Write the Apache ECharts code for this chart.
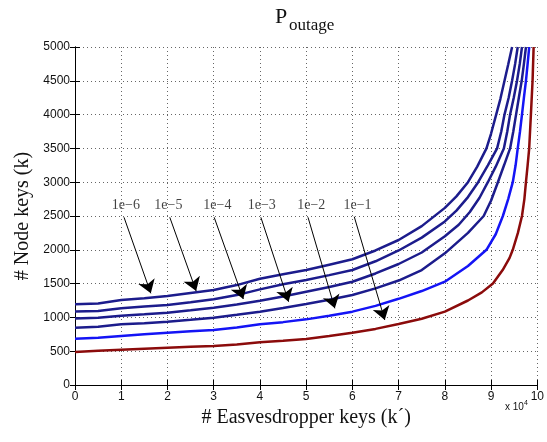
<!DOCTYPE html>
<html>
<head>
<meta charset="utf-8">
<script src="https://cdn.jsdelivr.net/npm/echarts@6/dist/echarts.min.js"></script>
<style>
  html, body { margin: 0; padding: 0; background: #fff; }
  #chart { width: 547px; height: 442px; }
</style>
</head>
<body>
<div id="chart"></div>
<script>
// x in units of 1e4 eavesdropper keys, y = node keys
const curve1e6 = [[0,1195],[0.5,1205],[1,1257],[1.5,1282],[2,1317],[2.5,1362],[3,1405],[3.5,1478],[4,1572],[4.5,1638],[5,1700],[5.5,1780],[6,1860],[6.5,1990],[7,2145],[7.5,2350],[8,2620],[8.25,2790],[8.5,3000],[8.7,3230],[8.9,3500],[9.0,3720],[9.11,4000],[9.2,4230],[9.29,4500],[9.37,4740],[9.454,5000]];
const curve1e5 = [[0,1088],[0.5,1095],[1,1134],[1.5,1160],[2,1183],[2.5,1225],[3,1268],[3.5,1330],[4,1415],[4.5,1490],[5,1553],[5.5,1625],[6,1701],[6.5,1830],[7,1990],[7.5,2180],[8,2420],[8.25,2580],[8.5,2780],[8.72,3000],[8.93,3250],[9.13,3500],[9.22,3750],[9.29,4000],[9.38,4250],[9.454,4500],[9.52,4750],[9.576,5000]];
const curve1e4 = [[0,983],[0.5,995],[1,1025],[1.5,1045],[2,1070],[2.5,1105],[3,1144],[3.5,1190],[4,1247],[4.5,1310],[5,1380],[5.5,1450],[6,1528],[6.5,1650],[7,1790],[7.5,1960],[8,2200],[8.3,2370],[8.54,2560],[8.75,2770],[8.93,3000],[9.1,3230],[9.276,3500],[9.35,3750],[9.411,4000],[9.49,4250],[9.561,4500],[9.62,4750],[9.668,5000]];
const curve1e3 = [[0,848],[0.5,860],[1,898],[1.5,915],[2,937],[2.5,965],[3,996],[3.5,1040],[4,1085],[4.5,1140],[5,1198],[5.5,1260],[6,1331],[6.5,1430],[7,1545],[7.5,1700],[8,1948],[8.5,2250],[8.84,2500],[9.0,2730],[9.147,3000],[9.28,3250],[9.411,3500],[9.48,3750],[9.54,4000],[9.6,4250],[9.662,4500],[9.71,4750],[9.754,5000]];
const curve1e2 = [[0,685],[0.5,700],[1,725],[1.5,750],[2,774],[2.5,795],[3,814],[3.5,850],[4,897],[4.5,930],[5,971],[5.5,1025],[6,1085],[6.5,1170],[7,1275],[7.5,1390],[8,1528],[8.5,1760],[8.9,2000],[9.1,2230],[9.255,2500],[9.37,2750],[9.469,3000],[9.53,3250],[9.576,3500],[9.625,3750],[9.668,4000],[9.71,4250],[9.754,4500],[9.79,4750],[9.825,5000]];
const curve1e1 = [[0,488],[0.5,505],[1,522],[1.5,537],[2,552],[2.5,565],[3,577],[3.5,600],[4,631],[4.5,655],[5,680],[5.5,725],[6,774],[6.5,830],[7,902],[7.5,980],[8,1085],[8.5,1250],[8.8,1370],[9.04,1500],[9.25,1700],[9.4,1880],[9.469,2000],[9.58,2250],[9.668,2500],[9.72,2750],[9.754,3000],[9.79,3250],[9.824,3500],[9.861,4000],[9.897,4500],[9.92,5000]];

const labelNames = ["1e\u22126", "1e\u22125", "1e\u22124", "1e\u22123", "1e\u22122", "1e\u22121"];
const labelPos = [[1.10,2663],[2.02,2663],[3.08,2663],[4.04,2663],[5.11,2663],[6.11,2663]];
const arrowStart = [[1.06,2481],[2.05,2481],[3.01,2481],[4.02,2481],[5.04,2481],[6.04,2490]];
const arrowEnd = [[1.64,1356],[2.62,1391],[3.64,1272],[4.62,1232],[5.62,1134],[6.70,962]];

const navy = "#1c1c8c";
const curves = [
  { data: curve1e6, color: navy },
  { data: curve1e5, color: navy },
  { data: curve1e4, color: navy },
  { data: curve1e3, color: navy },
  { data: curve1e2, color: "#1414f5" },
  { data: curve1e1, color: "#8b0b0b" }
];

const tickFont = { fontFamily: "Liberation Sans", fontSize: 12, color: "#111" };
const serif = "Liberation Serif";

const series = curves.map(function (c) {
  return {
    type: "line",
    data: c.data,
    showSymbol: false,
    smooth: false,
    clip: true,
    lineStyle: { color: c.color, width: 2.5 },
    z: 3
  };
});

series.push({
  type: "lines",
  coordinateSystem: "cartesian2d",
  symbol: ["none", "arrow"],
  symbolSize: [9, 13],
  lineStyle: { color: "#000", width: 1, opacity: 1 },
  data: arrowStart.map(function (s, i) {
    return { coords: [s, arrowEnd[i]] };
  }),
  z: 4
});

series.push({
  type: "scatter",
  symbolSize: 0,
  data: labelPos.map(function (p, i) {
    return { value: p, name: labelNames[i] };
  }),
  label: {
    show: true,
    position: "inside",
    formatter: "{b}",
    fontFamily: serif,
    fontSize: 14,
    color: "#111"
  },
  z: 5
});

const option = {
  backgroundColor: "#fff",
  animation: false,
  grid: { left: 75, right: 6, top: 47, bottom: 57 },
  graphic: [
    { type: "text", left: 275, top: 6, style: { text: "P", font: "22px 'Liberation Serif'", fill: "#111" } },
    { type: "text", left: 289, top: 17, style: { text: "outage", font: "17px 'Liberation Serif'", fill: "#111" } },
    {
      type: "text", left: 505, top: 400,
      style: {
        text: "{a|x 10}{b|4}",
        rich: {
          a: { fontFamily: "Liberation Sans", fontSize: 10, fill: "#111" },
          b: { fontFamily: "Liberation Sans", fontSize: 7, fill: "#111", padding: [0, 0, 7, 0] }
        }
      }
    }
  ],
  xAxis: [
    {
      type: "value", min: 0, max: 10, interval: 1,
      name: "# Easvesdropper keys (k\u00B4)",
      nameLocation: "middle", nameGap: 22,
      nameTextStyle: { fontFamily: serif, fontSize: 20, color: "#111" },
      axisLine: { lineStyle: { color: "#000", width: 1 } },
      axisTick: { inside: true, length: 5, lineStyle: { color: "#000" } },
      axisLabel: Object.assign({ margin: 6 }, tickFont),
      splitLine: { show: true, lineStyle: { color: "#666", type: [1, 3], width: 1 } }
    },
    {
      type: "value", min: 0, max: 10, interval: 1, position: "top",
      axisLine: { show: true, lineStyle: { color: "#000", width: 1 } },
      axisTick: { inside: true, length: 5, lineStyle: { color: "#000" } },
      axisLabel: { show: false },
      splitLine: { show: false }
    }
  ],
  yAxis: [
    {
      type: "value", min: 0, max: 5000, interval: 500,
      name: "# Node keys (k)",
      nameLocation: "middle", nameGap: 38,
      nameTextStyle: { fontFamily: serif, fontSize: 20, color: "#111" },
      axisLine: { show: true, lineStyle: { color: "#000", width: 1 } },
      axisTick: { show: true, inside: true, length: 5, lineStyle: { color: "#000" } },
      axisLabel: Object.assign({ margin: 5, formatter: function (v) { return String(v); } }, tickFont),
      splitLine: { show: true, lineStyle: { color: "#666", type: [1, 3], width: 1 } }
    },
    {
      type: "value", min: 0, max: 5000, interval: 500, position: "right",
      axisLine: { show: true, lineStyle: { color: "#000", width: 1 } },
      axisTick: { show: true, inside: true, length: 5, lineStyle: { color: "#000" } },
      axisLabel: { show: false },
      splitLine: { show: false }
    }
  ],
  series: series
};

const myChart = echarts.init(document.getElementById("chart"));
myChart.setOption(option);
</script>
</body>
</html>
